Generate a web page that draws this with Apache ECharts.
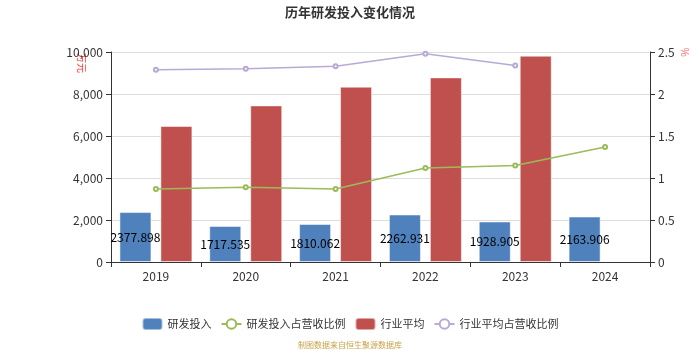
<!DOCTYPE html>
<html>
<head>
<meta charset="utf-8">
<script src="https://cdn.jsdelivr.net/npm/echarts@6/dist/echarts.min.js"></script>
<style>html,body{margin:0;padding:0;background:#fff;}#c{width:700px;height:350px;}</style>
</head>
<body>
<div id="c"></div>
<script>
var categories = ['2019', '2020', '2021', '2022', '2023', '2024'];
var rdInvest = [2377.898, 1717.535, 1810.062, 2262.931, 1928.905, 2163.906];
var rdRatio = [0.87, 0.89, 0.87, 1.12, 1.15, 1.37];
var industryAvg = [6476, 7457, 8348, 8790, 9824, null];
var industryRatio = [2.29, 2.30, 2.33, 2.48, 2.34, null];
var leftTicks = { min: 0, max: 10000, interval: 2000 };
var rightTicks = { min: 0, max: 2.5, interval: 0.5 };

var font = '"Noto Sans CJK SC", "Noto Sans", sans-serif';
var chart = echarts.init(document.getElementById('c'), null, { renderer: 'canvas' });
chart.setOption({
  animation: false,
  textStyle: { fontFamily: font },
  title: [
    { text: '历年研发投入变化情况', left: 'center', top: 1,
      textStyle: { fontSize: 13, fontWeight: 'bold', color: '#333', fontFamily: font } },
    { text: '制图数据来自恒生聚源数据库', left: 'center', top: 336,
      textStyle: { fontSize: 8, fontWeight: 'normal', color: '#c9a24a', fontFamily: font } }
  ],
  legend: {
    top: 312, left: 'center', itemWidth: 20, itemHeight: 12, itemGap: 9,
    textStyle: { fontSize: 11, color: '#333' },
    data: [
      { name: '研发投入', icon: 'roundRect' },
      { name: '研发投入占营收比例' },
      { name: '行业平均', icon: 'roundRect' },
      { name: '行业平均占营收比例' }
    ]
  },
  grid: { left: 111, right: 50, top: 52, bottom: 88 },
  xAxis: {
    type: 'category', data: categories,
    axisLine: { lineStyle: { color: '#333' } },
    axisTick: { show: true, alignWithLabel: false, lineStyle: { color: '#333' } },
    axisLabel: { fontSize: 12, color: '#333', margin: 8 }
  },
  yAxis: [
    { type: 'value', min: leftTicks.min, max: leftTicks.max, interval: leftTicks.interval,
      axisLine: { show: true, lineStyle: { color: '#333' } },
      axisTick: { show: true, lineStyle: { color: '#333' } },
      axisLabel: { fontSize: 12, color: '#333' },
      splitLine: { lineStyle: { color: '#ddd' } } },
    { type: 'value', min: rightTicks.min, max: rightTicks.max, interval: rightTicks.interval,
      axisLine: { show: true, lineStyle: { color: '#333' } },
      axisTick: { show: true, lineStyle: { color: '#333' } },
      axisLabel: { fontSize: 12, color: '#333' },
      splitLine: { show: false } }
  ],
  graphic: [
    { type: 'text', x: 82, y: 63, rotation: -Math.PI / 2,
      style: { text: '万元', fill: '#f33', font: '10px ' + font, align: 'center', verticalAlign: 'middle' } },
    { type: 'text', x: 685, y: 52, rotation: -Math.PI / 2,
      style: { text: '%', fill: '#f66', font: '10px ' + font, align: 'center', verticalAlign: 'middle' } }
  ],
  series: [
    { name: '研发投入', type: 'bar', data: rdInvest, barWidth: 32, barGap: '28%',
      itemStyle: { color: '#4f81bd', borderColor: 'rgba(255,255,255,0.5)', borderWidth: 1 },
      label: { show: true, position: 'inside', color: '#000', fontSize: 12 } },
    { name: '研发投入占营收比例', type: 'line', yAxisIndex: 1, data: rdRatio,
      symbol: 'emptyCircle', symbolSize: 4,
      lineStyle: { color: '#9bbb59', width: 1.5 }, itemStyle: { color: '#9bbb59' } },
    { name: '行业平均', type: 'bar', data: industryAvg, barWidth: 32,
      itemStyle: { color: '#c0504d', borderColor: 'rgba(255,255,255,0.5)', borderWidth: 1 } },
    { name: '行业平均占营收比例', type: 'line', yAxisIndex: 1, data: industryRatio,
      symbol: 'emptyCircle', symbolSize: 4,
      lineStyle: { color: '#b8a9d6', width: 1.5 }, itemStyle: { color: '#b8a9d6' } }
  ]
});
</script>
</body>
</html>
